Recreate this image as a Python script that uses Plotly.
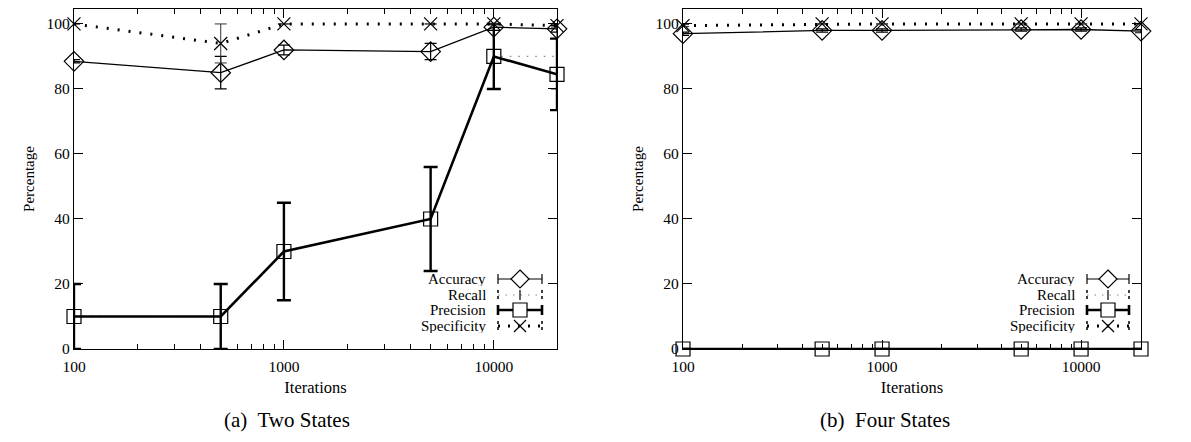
import plotly.graph_objects as go

iterations = [100, 500, 1000, 5000, 10000, 20000]

# (a) Two States
acc_a = [88.5, 85.0, 92.0, 91.5, 99.0, 98.5]
acc_a_err = [0.5, 5.0, 1.5, 2.5, 1.0, 1.0]
rec_a = [10.0, 10.0, 30.0, 40.0, 90.0, 90.0]
rec_a_err = [10.0, 10.0, 15.0, 16.0, 10.0, 10.0]
pre_a = [10.0, 10.0, 30.0, 40.0, 90.0, 84.5]
pre_a_err = [10.0, 10.0, 15.0, 16.0, 10.0, 11.0]
spe_a = [100.0, 94.0, 100.0, 100.0, 100.0, 99.5]
spe_a_err = [0.0, 6.0, 0.0, 0.0, 0.0, 0.5]

# (b) Four States
acc_b = [97.0, 98.0, 98.0, 98.3, 98.3, 97.8]
acc_b_err = [0.5, 0.5, 0.5, 0.5, 0.5, 0.5]
rec_b = [0.0, 0.0, 0.0, 0.0, 0.0, 0.0]
rec_b_err = [0.0, 0.0, 0.0, 0.0, 0.0, 0.0]
pre_b = [0.0, 0.0, 0.0, 0.0, 0.0, 0.0]
pre_b_err = [0.0, 0.0, 0.0, 0.0, 0.0, 0.0]
spe_b = [99.5, 100.0, 100.0, 100.0, 100.0, 100.0]
spe_b_err = [0.3, 0.0, 0.0, 0.0, 0.0, 0.0]

series_names = ["Accuracy", "Recall", "Precision", "Specificity"]
captions = ["(a)&nbsp; Two States", "(b)&nbsp; Four States"]
x_ticks = [100, 1000, 10000]
x_minor = [200, 300, 400, 500, 600, 700, 800, 900,
           2000, 3000, 4000, 5000, 6000, 7000, 8000, 9000, 20000]
y_ticks = [0, 20, 40, 60, 80, 100]

FONT = "Liberation Serif, DejaVu Serif, Times New Roman, serif"
PAGE_W, PAGE_H = 1191, 442
OFF = 8  # default page body margin
W, H = PAGE_W - 2 * OFF, PAGE_H - 2 * OFF


def px(x):
    return (x - OFF) / W


def py(y):
    return 1 - (y - OFF) / H


fig = go.Figure()


def add_panel(idx, acc, acc_err, rec, rec_err, pre, pre_err, spe, spe_err):
    xa = "x" if idx == 1 else "x2"
    ya = "y" if idx == 1 else "y2"
    common = dict(xaxis=xa, yaxis=ya, cliponaxis=False, showlegend=False)
    fig.add_trace(go.Scatter(
        x=iterations, y=acc, name=series_names[0], mode="lines+markers",
        line=dict(color="black", width=1.3),
        marker=dict(symbol="diamond-open", size=15, color="black", line=dict(width=1.2)),
        error_y=dict(type="data", array=acc_err, color="black", thickness=1.2, width=6),
        **common))
    fig.add_trace(go.Scatter(
        x=iterations, y=rec, name=series_names[1], mode="lines",
        line=dict(color="#888888", width=1.3, dash="1.5px,7px"),
        error_y=dict(type="data", array=rec_err, color="black", thickness=1.0, width=6),
        **common))
    fig.add_trace(go.Scatter(
        x=iterations, y=pre, name=series_names[2], mode="lines+markers",
        line=dict(color="black", width=2.6),
        marker=dict(symbol="square-open", size=14, color="black", line=dict(width=1.2)),
        error_y=dict(type="data", array=pre_err, color="black", thickness=2.4, width=7),
        **common))
    fig.add_trace(go.Scatter(
        x=iterations, y=spe, name=series_names[3], mode="lines+markers",
        line=dict(color="black", width=3, dash="2px,9px"),
        marker=dict(symbol="x-thin-open", size=13, color="black", line=dict(width=1.2, color="black")),
        error_y=dict(type="data", array=spe_err, color="#333333", thickness=1.0, width=6),
        **common))


add_panel(1, acc_a, acc_a_err, rec_a, rec_a_err, pre_a, pre_a_err, spe_a, spe_a_err)
add_panel(2, acc_b, acc_b_err, rec_b, rec_b_err, pre_b, pre_b_err, spe_b, spe_b_err)

y_dom = [py(349), py(9)]
x_doms = [[px(74), px(557)], [px(683), px(1141)]]
caption_centers = [px(287), px(885)]

axis_common = dict(
    showline=True, linecolor="black", linewidth=1.3, mirror="allticks",
    ticks="inside", tickcolor="black", tickwidth=1.2, showgrid=False, zeroline=False,
    tickfont=dict(family=FONT, size=15.5, color="black"), automargin=False,
)

layout = dict(
    width=W, height=H, plot_bgcolor="white", paper_bgcolor="white",
    margin=dict(l=0, r=0, t=0, b=0, autoexpand=False),
    font=dict(family=FONT, color="black"),
    annotations=[], shapes=[], showlegend=False,
)

for i, name in enumerate(["", "2"]):
    layout["xaxis" + name] = dict(
        type="log", domain=x_doms[i], range=[2, 4.30103], anchor="y" + name,
        tickvals=x_ticks, ticktext=[str(v) for v in x_ticks], ticklen=9,
        ticklabelstandoff=3,
        minor=dict(tickvals=x_minor, ticks="inside", ticklen=5, tickcolor="black", tickwidth=1.2),
        title=dict(text="Iterations", font=dict(family=FONT, size=16.5), standoff=7),
        **axis_common)
    layout["yaxis" + name] = dict(
        domain=y_dom, range=[0, 104.6], anchor="x" + name,
        tickvals=y_ticks, ticklen=9,
        title=dict(text="Percentage", font=dict(family=FONT, size=15), standoff=8),
        **axis_common)
    layout["annotations"].append(dict(
        text=captions[i], xref="paper", yref="paper",
        x=caption_centers[i], y=py(434), height=24,
        showarrow=False, font=dict(family=FONT, size=21, color="black"),
        xanchor="center", yanchor="bottom", valign="middle"))

# ---- gnuplot-style key (text on the left, sample on the right) ----
key_styles = [
    dict(color="black", width=1.2, dash="solid", cap=1.2, mark="diamond"),
    dict(color="#888888", width=1.2, dash="1.5px,6px", cap=1.0, mark="plus"),
    dict(color="black", width=2.6, dash="solid", cap=2.6, mark="square"),
    dict(color="black", width=3.0, dash="2px,8px", cap=3.0, mark="x"),
]
key_rows = [279, 295, 310, 326]
key_pos = [(488, 498, 542), (1077, 1087, 1129)]


def seg(x0, y0, x1, y1, color, width, dash="solid"):
    layout["shapes"].append(dict(
        type="line", xref="paper", yref="paper",
        x0=px(x0), y0=py(y0), x1=px(x1), y1=py(y1),
        line=dict(color=color, width=width, dash=dash)))


def path(points, width=1.2):
    d = "M " + " L ".join(f"{px(a)},{py(b)}" for a, b in points) + " Z"
    layout["shapes"].append(dict(
        type="path", xref="paper", yref="paper", path=d,
        fillcolor="white", line=dict(color="black", width=width)))


for (tx, sx0, sx1) in key_pos:
    cx = (sx0 + sx1) / 2
    for name, row, st in zip(series_names, key_rows, key_styles):
        layout["annotations"].append(dict(
            text=name, xref="paper", yref="paper", x=px(tx), y=py(row - 1),
            xanchor="right", yanchor="middle", showarrow=False, height=15, valign="middle",
            font=dict(family=FONT, size=15, color="black")))
        seg(sx0, row, sx1, row, st["color"], st["width"], st["dash"])
        capdash = "solid" if st["dash"] == "solid" else "dot"
        seg(sx0, row - 5, sx0, row + 5, "black", st["cap"] if capdash == "solid" else 1.5, capdash)
        seg(sx1, row - 5, sx1, row + 5, "black", st["cap"] if capdash == "solid" else 1.5, capdash)
        m = st["mark"]
        if m == "diamond":
            path([(cx, row - 9), (cx + 9, row), (cx, row + 9), (cx - 9, row)])
        elif m == "square":
            path([(cx - 7, row - 7), (cx + 7, row - 7), (cx + 7, row + 7), (cx - 7, row + 7)])
        elif m == "plus":
            seg(cx, row - 5, cx, row + 5, "black", 1.2)
        elif m == "x":
            seg(cx - 6, row - 6, cx + 6, row + 6, "black", 1.2)
            seg(cx - 6, row + 6, cx + 6, row - 6, "black", 1.2)

fig.update_layout(**layout)
fig.write_html("out.html")
